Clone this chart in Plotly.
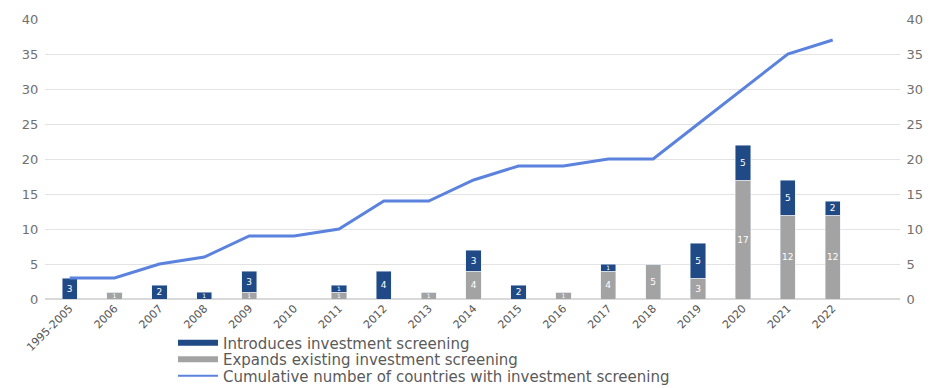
import plotly.graph_objects as go

categories = ["1995-2005", "2006", "2007", "2008", "2009", "2010", "2011", "2012", "2013",
              "2014", "2015", "2016", "2017", "2018", "2019", "2020", "2021", "2022"]
expands = [0, 1, 0, 0, 1, 0, 1, 0, 1, 4, 0, 1, 4, 5, 3, 17, 12, 12]
introduces = [3, 0, 2, 1, 3, 0, 1, 4, 0, 3, 2, 0, 1, 0, 5, 5, 5, 2]
cumulative = [3, 3, 5, 6, 9, 9, 10, 14, 14, 17, 19, 19, 20, 20, 25, 30, 35, 37]
y_ticks = [0, 5, 10, 15, 20, 25, 30, 35, 40]

BLUE = "#1f4a86"
GRAY = "#a3a3a3"
LINE = "#5b82dd"
TXT = "#707070"
FONT = "DejaVu Sans, Liberation Sans, sans-serif"


def labels(vals):
    return [str(v) if v else None for v in vals]


def label_sizes(vals):
    return [6 if v == 1 else 9 for v in vals]


fig = go.Figure()
fig.add_trace(go.Bar(x=categories, y=expands, marker_color=GRAY, width=0.34,
                     text=labels(expands), textposition="inside", insidetextanchor="middle",
                     textangle=0, constraintext="none",
                     textfont=dict(color="white", size=label_sizes(expands)), showlegend=False))
fig.add_trace(go.Bar(x=categories, y=introduces, marker_color=BLUE, width=0.34,
                     text=labels(introduces), textposition="inside", insidetextanchor="middle",
                     textangle=0, constraintext="none",
                     textfont=dict(color="white", size=label_sizes(introduces)), showlegend=False))
fig.add_trace(go.Scatter(x=categories, y=cumulative, mode="lines",
                         line=dict(color=LINE, width=3), showlegend=False))
# legend entries (separate legends for precise row spacing)
fig.add_trace(go.Scatter(x=[None], y=[None], mode="lines", line=dict(color=BLUE, width=6),
                         name="Introduces investment screening", legend="legend"))
fig.add_trace(go.Scatter(x=[None], y=[None], mode="lines", line=dict(color=GRAY, width=6),
                         name="Expands existing investment screening", legend="legend2"))
fig.add_trace(go.Scatter(x=[None], y=[None], mode="lines", line=dict(color=LINE, width=2),
                         name="Cumulative number of countries with investment screening",
                         legend="legend3"))
# invisible trace to drive the right axis
fig.add_trace(go.Scatter(x=[categories[0]], y=[0], yaxis="y2", mode="markers",
                         marker=dict(opacity=0), showlegend=False, hoverinfo="skip"))

leg_common = dict(x=0.185, xref="container", yref="container", xanchor="left",
                  yanchor="middle", font=dict(size=15, color="#5a5a5a", family=FONT),
                  itemwidth=40, bgcolor="rgba(0,0,0,0)", borderwidth=0)

fig.update_layout(
    barmode="stack",
    width=935, height=388,
    margin=dict(l=45, r=35, t=19, b=89, autoexpand=False),
    paper_bgcolor="white", plot_bgcolor="white",
    font=dict(family=FONT, color=TXT, size=12),
    xaxis=dict(type="category", range=[-0.55, 18.5], tickangle=-45,
               tickfont=dict(size=11, color="#555555", family=FONT), showgrid=False,
               showline=False, ticks="", automargin=False),
    yaxis=dict(range=[0, 40], tickvals=y_ticks, showgrid=True, gridcolor="#e3e3e3",
               gridwidth=1, zeroline=True, zerolinecolor="#d9d9d9",
               tickfont=dict(size=13, color=TXT), ticklen=3, ticks="outside",
               tickcolor="white", automargin=False),
    yaxis2=dict(range=[0, 40], tickvals=y_ticks, overlaying="y", side="right",
                showgrid=False, zeroline=False, tickfont=dict(size=13, color=TXT),
                ticks="outside", ticklen=3, tickcolor="white", automargin=False),
    legend=dict(y=1 - 343 / 388, **leg_common),
    legend2=dict(y=1 - 359.5 / 388, **leg_common),
    legend3=dict(y=1 - 376 / 388, **leg_common),
)

fig.write_html("out.html")
